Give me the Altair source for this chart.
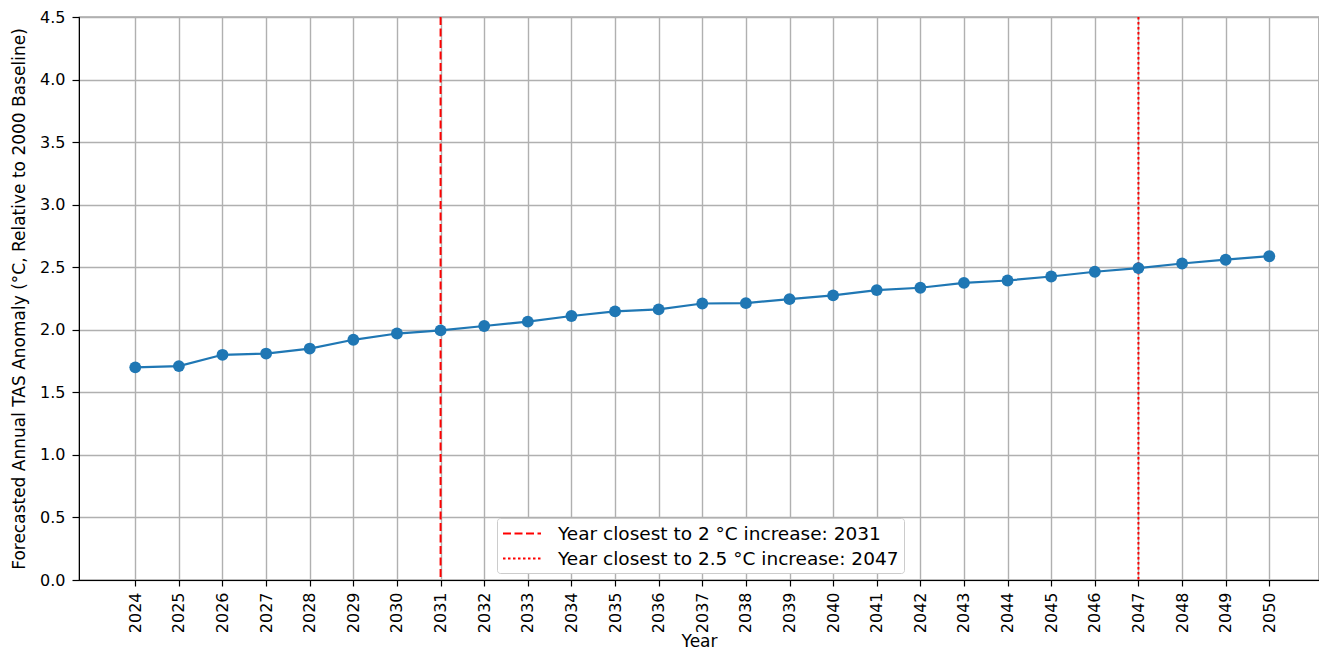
import altair as alt
import pandas as pd

years = list(range(2024, 2051))
anomaly = [1.70, 1.71, 1.80, 1.81, 1.85, 1.92, 1.97, 1.995, 2.03, 2.065,
           2.11, 2.147, 2.163, 2.21, 2.213, 2.245, 2.275, 2.317, 2.336, 2.375,
           2.394, 2.426, 2.464, 2.493, 2.53, 2.56, 2.588]
marker_years = [2031, 2047]
marker_labels = ["Year closest to 2 °C increase: 2031",
                 "Year closest to 2.5 °C increase: 2047"]

df = pd.DataFrame({"Year": years, "Anomaly": anomaly})
mk = pd.DataFrame({"Year": marker_years, "label": marker_labels})

FONT = "DejaVu Sans"

x = alt.X("Year:Q",
          scale=alt.Scale(domain=[2022.71, 2051.14], nice=False, zero=False),
          axis=alt.Axis(values=years, format="d", labelAngle=270, title="Year",
                        labelAlign="right", labelBaseline="middle",
                        labelFont=FONT, titleFont=FONT,
                        labelFontSize=16, titleFontSize=17, titleFontWeight="normal",
                        labelColor="black", titleColor="black",
                        tickColor="black", tickSize=6, tickWidth=1.2, domainColor="black",
                        labelPadding=6, titlePadding=1,
                        grid=True, gridColor="#b0b0b0", gridWidth=1.4))
y = alt.Y("Anomaly:Q",
          scale=alt.Scale(domain=[0, 4.5], nice=False),
          axis=alt.Axis(values=[i * 0.5 for i in range(10)], format=".1f",
                        title="Forecasted Annual TAS Anomaly (°C, Relative to 2000 Baseline)",
                        labelFont=FONT, titleFont=FONT,
                        labelFontSize=16, titleFontSize=17, titleFontWeight="normal",
                        labelColor="black", titleColor="black",
                        tickColor="black", tickSize=7, tickWidth=1.2, domainColor="black",
                        labelPadding=7, titlePadding=11,
                        grid=True, gridColor="#b0b0b0", gridWidth=1.4))

line = alt.Chart(df).mark_line(color="#1f77b4", strokeWidth=2.2).encode(x=x, y=y)
pts = alt.Chart(df).mark_circle(color="#1f77b4", size=140, opacity=1).encode(x=x, y=y)

leg = dict(title=None, orient="none", legendX=418, legendY=501,
           symbolType="M-1,0H3", symbolStrokeWidth=2, symbolSize=361,
           labelFontSize=18.5, labelColor="black", labelFont=FONT, labelOffset=35,
           fillColor="white", strokeColor="#cccccc",
           padding=5, cornerRadius=3, rowPadding=5, labelLimit=700)

rules = alt.Chart(mk).mark_rule(strokeWidth=2).encode(
    x=alt.X("Year:Q"),
    color=alt.Color("label:N",
                    scale=alt.Scale(domain=marker_labels, range=["red", "red"]),
                    legend=alt.Legend(**leg)),
    strokeDash=alt.StrokeDash("label:N",
                              scale=alt.Scale(domain=marker_labels,
                                              range=[[8, 3.5], [2.5, 2.5]]),
                              legend=alt.Legend(**leg)),
)

chart = alt.layer(rules, line, pts).properties(
    width=1240, height=563,
    autosize=alt.AutoSizeParams(type="none"),
    padding={"left": 71, "top": 9, "right": 0, "bottom": 71},
).configure(background="white", font=FONT).configure_view(
    stroke="black", strokeWidth=1.2
)

chart.save("out.html", embed_options={"renderer": "svg", "actions": False})
